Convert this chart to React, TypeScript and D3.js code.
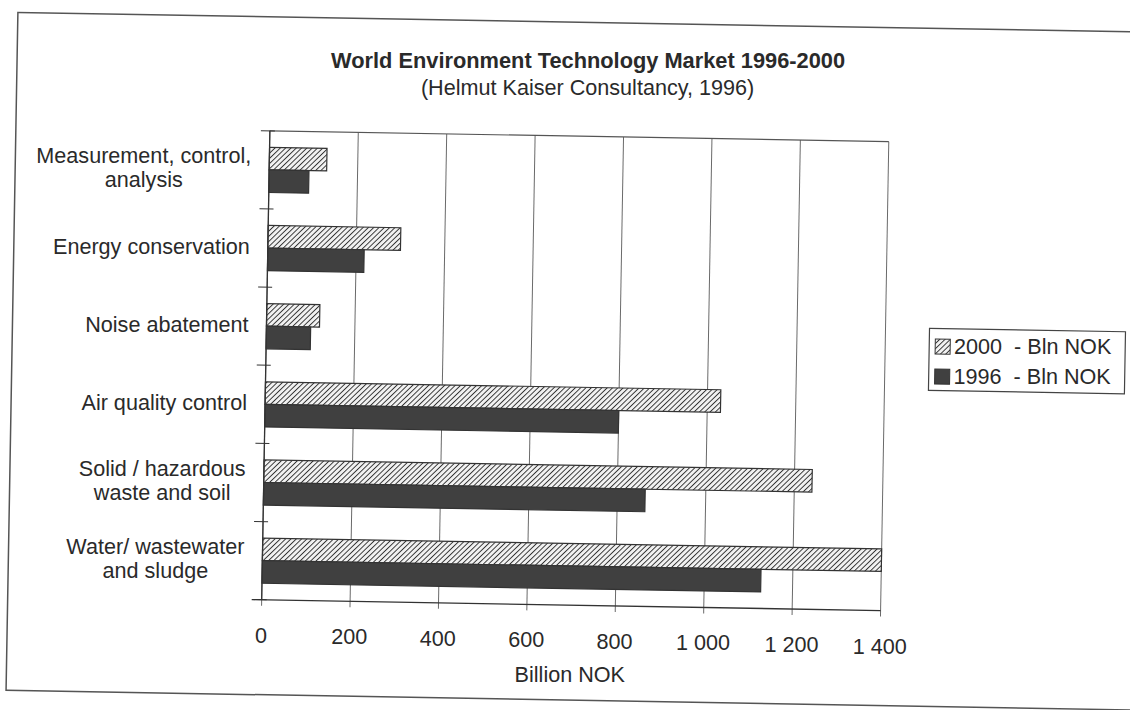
import React, { useLayoutEffect, useRef } from "react";
import * as d3 from "d3";

const categories: string[][] = [
  ["Measurement, control,", "analysis"],
  ["Energy conservation"],
  ["Noise abatement"],
  ["Air quality control"],
  ["Solid / hazardous", "waste and soil"],
  ["Water/ wastewater", "and sludge"],
];
const values2000: number[] = [130, 300, 120, 1030, 1240, 1400];
const values1996: number[] = [90, 218, 100, 800, 863, 1128];
const seriesNames: string[] = ["2000  - Bln NOK", "1996  - Bln NOK"];
const xTicks: number[] = [0, 200, 400, 600, 800, 1000, 1200, 1400];
const title = "World Environment Technology Market 1996-2000";
const subtitle = "(Helmut Kaiser Consultancy, 1996)";
const xTitle = "Billion NOK";

const W = 1130;
const H = 710;
const FONT = "'Liberation Sans', Arial, Helvetica, sans-serif";
const TEXT = "#2a2a2a";
const DARK = "#404040";
const FS = 21.6;

// slight scan rotation (degrees) about the page centre
const ANG = 1;
const CX = 565;
const CY = 355;
const rot = (px: number, py: number): [number, number] => {
  const a = (ANG * Math.PI) / 180;
  const dx = px - CX;
  const dy = py - CY;
  return [CX + dx * Math.cos(a) - dy * Math.sin(a), CY + dx * Math.sin(a) + dy * Math.cos(a)];
};

export default function App() {
  const labelsRef = useRef<SVGGElement | null>(null);

  const plot = { left: 266, right: 885, top: 136, bottom: 605 };
  const x = d3.scaleLinear().domain([0, 1400]).range([plot.left, plot.right]);
  const yBand = d3
    .scaleBand<number>()
    .domain(d3.range(categories.length))
    .range([plot.top, plot.bottom])
    .padding(0);
  const step = yBand.step();
  const groupH = step * 0.578;
  const inner = d3.scaleBand<number>().domain([0, 1]).range([0, groupH]).padding(0);

  const fmt = (v: number) => (v >= 1000 ? d3.format(",")(v).replace(",", " ") : String(v));

  useLayoutEffect(() => {
    if (!labelsRef.current) return;
    d3.select(labelsRef.current)
      .selectAll<SVGGElement, unknown>("g.lab")
      .each(function () {
        const g = this as SVGGElement;
        const bb = g.getBBox();
        const cy = Number(g.getAttribute("data-cy"));
        const cx = 248 - bb.width / 2;
        const [rx, ry] = rot(cx, cy);
        g.setAttribute("transform", `translate(${rx},${ry})`);
      });
  }, []);

  const series = [values2000, values1996];
  const T = (px: number, py: number) => {
    const [a, b] = rot(px, py);
    return `translate(${a},${b})`;
  };

  return (
    <svg
      width={W}
      height={H}
      style={{ position: "absolute", left: 0, top: 0, background: "#fff" }}
      fontFamily={FONT}
    >
      <defs>
        <pattern
          id="hatch"
          patternUnits="userSpaceOnUse"
          width={3.7}
          height={3.7}
          patternTransform="rotate(45)"
        >
          <rect width={3.7} height={3.7} fill="#f2f2f2" />
          <line x1={0} y1={0} x2={0} y2={3.7} stroke="#333" strokeWidth={1.9} />
        </pattern>
      </defs>
      <rect width={W} height={H} fill="#fff" />
      <g transform={`rotate(${ANG} ${CX} ${CY})`}>
        {/* outer frame */}
        <rect x={12} y={22} width={1140} height={678} fill="none" stroke="#555" strokeWidth={1.5} />

        {/* gridlines */}
        {xTicks.map((t) => (
          <line
            key={"g" + t}
            x1={x(t)}
            x2={x(t)}
            y1={plot.top}
            y2={plot.bottom + 6}
            stroke="#6a6a6a"
            strokeWidth={1}
          />
        ))}
        <line x1={plot.left} x2={plot.right} y1={plot.top} y2={plot.top} stroke="#555" strokeWidth={1.2} />

        {/* bars */}
        {categories.map((_, i) =>
          series.map((vals, s) => (
            <rect
              key={`b${i}-${s}`}
              x={x(0)}
              y={(yBand(i) as number) + (step - groupH) / 2 + (inner(s) as number)}
              width={x(vals[i]) - x(0)}
              height={inner.bandwidth()}
              fill={s === 0 ? "url(#hatch)" : DARK}
              stroke="#333"
              strokeWidth={1.2}
            />
          ))
        )}

        {/* axes */}
        <line x1={plot.left} x2={plot.left} y1={plot.top} y2={plot.bottom} stroke="#333" strokeWidth={1.3} />
        <line x1={plot.left - 10} x2={plot.right} y1={plot.bottom} y2={plot.bottom} stroke="#333" strokeWidth={1.3} />
        {d3.range(categories.length + 1).map((i) => (
          <line
            key={"yt" + i}
            x1={plot.left - 9}
            x2={plot.left + 5}
            y1={plot.top + i * step}
            y2={plot.top + i * step}
            stroke="#333"
            strokeWidth={1}
          />
        ))}

        {/* legend box and swatches */}
        <rect x={929} y={322} width={196} height={62} fill="#fff" stroke="#444" strokeWidth={1.2} />
        {seriesNames.map((_, s) => (
          <rect
            key={"sw" + s}
            x={935}
            y={340 + s * 30 - 7.5}
            width={15}
            height={15}
            fill={s === 0 ? "url(#hatch)" : DARK}
            stroke="#333"
            strokeWidth={1}
          />
        ))}
      </g>

      {/* texts: positioned along the rotated frame, glyphs kept upright */}
      <text transform={T(583, 68)} textAnchor="middle" fontSize={21.8} fontWeight="bold" fill={TEXT}>
        {title}
      </text>
      <text transform={T(583, 95)} textAnchor="middle" fontSize={FS} fill={TEXT}>
        {subtitle}
      </text>

      {xTicks.map((t) => (
        <text key={"xl" + t} transform={T(x(t), 648)} textAnchor="middle" fontSize={FS} fill={TEXT}>
          {fmt(t)}
        </text>
      ))}
      <text transform={T(x(700), 682)} textAnchor="middle" fontSize={FS} fill={TEXT}>
        {xTitle}
      </text>

      <g ref={labelsRef}>
        {categories.map((lines, i) => {
          const cy = (yBand(i) as number) + step / 2;
          return (
            <g key={"cl" + i} className="lab" data-cy={cy} transform={T(150, cy)}>
              {lines.map((ln, k) => (
                <text
                  key={k}
                  x={0}
                  y={(k - (lines.length - 1) / 2) * 24 + 7.5}
                  textAnchor="middle"
                  fontSize={FS}
                  fill={TEXT}
                >
                  {ln}
                </text>
              ))}
            </g>
          );
        })}
      </g>

      {seriesNames.map((name, s) => (
        <text
          key={"lt" + s}
          transform={T(954, 340 + s * 30 + 7.5)}
          fontSize={FS}
          fill={TEXT}
          style={{ whiteSpace: "pre" }}
        >
          {name}
        </text>
      ))}
    </svg>
  );
}
